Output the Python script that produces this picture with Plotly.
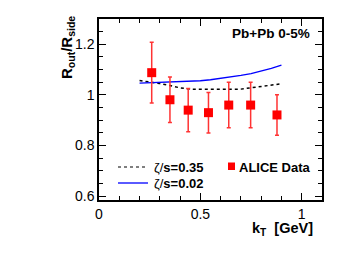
import plotly.graph_objects as go

# ALICE data
kt_data = [0.26, 0.35, 0.44, 0.54, 0.64, 0.748, 0.878]
r_data = [1.088, 0.981, 0.94, 0.93, 0.96, 0.96, 0.921]
r_err = [0.12, 0.09, 0.085, 0.08, 0.09, 0.09, 0.08]

# zeta/s = 0.35 (black dotted)
kt_z035 = [0.2, 0.25, 0.3, 0.35, 0.4, 0.45, 0.5, 0.6, 0.7, 0.8, 0.9]
r_z035 = [1.057, 1.052, 1.045, 1.037, 1.028, 1.023, 1.022, 1.022, 1.023, 1.032, 1.044]

# zeta/s = 0.02 (blue solid)
kt_z002 = [0.2, 0.3, 0.4, 0.5, 0.55, 0.6, 0.65, 0.7, 0.75, 0.8, 0.85, 0.9]
r_z002 = [1.047, 1.049, 1.052, 1.056, 1.06, 1.065, 1.071, 1.077, 1.084, 1.094, 1.105, 1.118]

xtick_vals = [0, 0.5, 1]
xtick_text = ["0", "0.5", "1"]
ytick_vals = [0.6, 0.8, 1.0, 1.2]
ytick_text = ["0.6", "0.8", "1", "1.2"]

FONT = "Liberation Sans, Arial, sans-serif"

fig = go.Figure()
fig.add_trace(go.Scatter(x=kt_z035, y=r_z035, mode="lines",
                         line=dict(color="black", width=1.5, dash="dot"),
                         showlegend=False))
fig.add_trace(go.Scatter(x=kt_z002, y=r_z002, mode="lines",
                         line=dict(color="#0000ff", width=1.3),
                         showlegend=False))
fig.add_trace(go.Scatter(x=kt_data, y=r_data, mode="markers",
                         marker=dict(symbol="square", size=9, color="#ff0000"),
                         error_y=dict(type="data", array=r_err, color="#ff3333",
                                      thickness=1.5, width=2),
                         showlegend=False))

axis_common = dict(showline=True, linecolor="black", linewidth=1.5, mirror="allticks",
                   ticks="inside", ticklen=7, tickwidth=1, tickcolor="black",
                   showgrid=False, zeroline=False,
                   tickfont=dict(family=FONT, size=14, color="black"))

fig.update_xaxes(range=[0, 1.1], tickmode="array", tickvals=xtick_vals, ticktext=xtick_text,
                 minor=dict(ticks="inside", ticklen=4, dtick=0.1, tick0=0, tickcolor="black"),
                 **axis_common)
fig.update_yaxes(range=[0.585, 1.3], tickmode="array", tickvals=ytick_vals, ticktext=ytick_text,
                 minor=dict(ticks="inside", ticklen=4, dtick=0.05, tick0=0.6, tickcolor="black"),
                 **axis_common)

# page has an 8px body margin: work in page pixel coords, offset into the figure
OFF = 8
W, H = 357 - OFF, 269 - OFF
ml, mr, mt, mb = 99 - OFF, 35, 19 - OFF, 69
pw, ph = W - ml - mr, H - mt - mb


def px(x):
    return (x - OFF - ml) / pw


def py(y):
    return 1 - (y - OFF - mt) / ph


annotations = [
    dict(text="<b>Pb+Pb 0-5%</b>", x=px(312), y=py(33), xref="paper", yref="paper",
         xanchor="right", yanchor="middle", showarrow=False,
         font=dict(family=FONT, size=13.5, color="black")),
    dict(text="<b>k<sub>T</sub>  [GeV]</b>", x=px(315), y=py(229), xref="paper", yref="paper",
         xanchor="right", yanchor="middle", showarrow=False,
         font=dict(family=FONT, size=14.5, color="black")),
    dict(text="<b>R<sub>out</sub>/R<sub>side</sub></b>", x=px(67), y=py(48), xref="paper", yref="paper",
         xanchor="center", yanchor="middle", showarrow=False, textangle=-90,
         font=dict(family=FONT, size=15, color="black")),
    dict(text="ζ/<b>s=0.35</b>", x=px(152), y=py(167), xref="paper", yref="paper",
         xanchor="left", yanchor="middle", showarrow=False,
         font=dict(family=FONT, size=13, color="black")),
    dict(text="ζ/<b>s=0.02</b>", x=px(152), y=py(183), xref="paper", yref="paper",
         xanchor="left", yanchor="middle", showarrow=False,
         font=dict(family=FONT, size=13, color="black")),
    dict(text="<b>ALICE Data</b>", x=px(237), y=py(167), xref="paper", yref="paper",
         xanchor="left", yanchor="middle", showarrow=False,
         font=dict(family=FONT, size=13, color="black")),
]

shapes = [
    dict(type="line", xref="paper", yref="paper", x0=px(118), x1=px(148), y0=py(167), y1=py(167),
         line=dict(color="black", width=1.2, dash="dot")),
    dict(type="line", xref="paper", yref="paper", x0=px(118), x1=px(148), y0=py(183), y1=py(183),
         line=dict(color="#0000ff", width=1.3)),
    dict(type="rect", xref="paper", yref="paper", x0=px(228), x1=px(235), y0=py(162.5), y1=py(170),
         fillcolor="#ff0000", line=dict(width=0)),
]

fig.update_layout(width=W, height=H, margin=dict(l=ml, r=mr, t=mt, b=mb, autoexpand=False),
                  paper_bgcolor="white", plot_bgcolor="white",
                  annotations=annotations, shapes=shapes, showlegend=False,
                  font=dict(family=FONT))

fig.write_html("out.html")
